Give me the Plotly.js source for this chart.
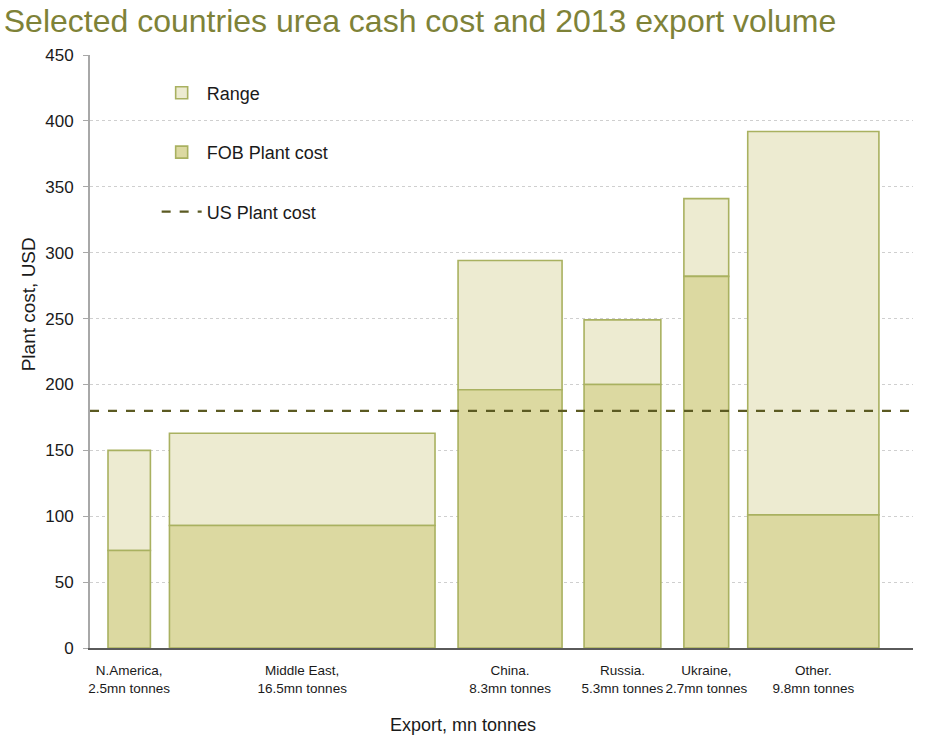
<!DOCTYPE html>
<html>
<head>
<meta charset="utf-8">
<script src="https://cdn.plot.ly/plotly-3.0.1.min.js"></script>
<style>html,body{margin:0;padding:0;background:#fff;}#chart{width:945px;height:752px;}</style>
</head>
<body>
<div id="chart"></div>
<script>
// ---- data ----
const regionNames = ['N.America,', 'Middle East,', 'China.', 'Russia.', 'Ukraine,', 'Other.'];
const exportVolume = ['2.5', '16.5', '8.3', '5.3', '2.7', '9.8'];   // mn tonnes (labels)
const fobPlantCost = [74, 93, 196, 200, 282, 101];                  // USD
const rangeHigh = [150, 163, 294, 249, 341, 392];                   // USD, top of range
const usPlantCost = 180;                                            // USD

// ---- layout of the variable-width bars (as drawn in the reference) ----
const drawnWidths = [2.65, 16.6, 6.5, 4.8, 2.8, 8.2];
const drawnGaps = [1.125, 1.19, 1.44, 1.375, 1.44, 1.19];
const axisMax = 51.44;

const centers = [];
let pos = 0;
drawnWidths.forEach((w, i) => { pos += drawnGaps[i]; centers.push(pos + w / 2); pos += w; });
const tickText = regionNames.map((n, i) => n + '<br>' + exportVolume[i] + 'mn tonnes');
const rangeSize = rangeHigh.map((h, i) => h - fobPlantCost[i]);

const borderCol = '#A9B160';
const traces = [
  {
    type: 'bar', name: 'Range', x: centers, y: rangeSize, base: fobPlantCost, width: drawnWidths,
    marker: {color: '#EDEBD1', line: {color: borderCol, width: 1.6}},
    legendgroup: 'a', hoverinfo: 'skip'
  },
  {
    type: 'bar', name: 'FOB Plant cost', x: centers, y: fobPlantCost, width: drawnWidths,
    marker: {color: '#DCD9A1', line: {color: borderCol, width: 1.6}},
    legendgroup: 'b', hoverinfo: 'skip'
  },
  {
    type: 'scatter', mode: 'lines', name: 'US Plant cost',
    x: [0, axisMax], y: [usPlantCost, usPlantCost],
    line: {color: '#5B5A22', width: 2.2, dash: 'dash'},
    legendgroup: 'c', hoverinfo: 'skip'
  }
];

const layout = {
  width: 945, height: 752,
  paper_bgcolor: '#fff', plot_bgcolor: '#fff',
  margin: {l: 90, r: 32, t: 55, b: 104},
  barmode: 'overlay',
  font: {family: '"Liberation Sans", Arial, sans-serif', color: '#1a1a1a'},
  title: {
    text: 'Selected countries urea cash cost and 2013 export volume',
    font: {size: 32, color: '#7E8238', family: '"Liberation Sans", Arial, sans-serif'},
    x: 0.004, xanchor: 'left', xref: 'container', y: 0.973, yanchor: 'middle', yref: 'container'
  },
  showlegend: true,
  legend: {
    x: 0.081, y: 0.967, xanchor: 'left', yanchor: 'top',
    font: {size: 18, color: '#1a1a1a'},
    bgcolor: 'rgba(0,0,0,0)', tracegroupgap: 33, traceorder: 'grouped',
    itemwidth: 40
  },
  xaxis: {
    range: [0, axisMax], showgrid: false, zeroline: false,
    showline: true, linecolor: '#5a5a5a', linewidth: 2,
    tickvals: centers, ticktext: tickText, ticks: '', tickangle: 0,
    tickfont: {size: 13.5, color: '#1a1a1a'}, ticklabelstandoff: 9,
    fixedrange: true
  },
  yaxis: {
    range: [0, 450], dtick: 50, tick0: 0,
    showgrid: true, gridcolor: '#CFCFCF', griddash: 'dot', gridwidth: 1,
    zeroline: false, showline: true, linecolor: '#A8A8A8', linewidth: 2,
    ticks: 'outside', ticklen: 5, tickcolor: '#A8A8A8',
    tickfont: {size: 17, color: '#1a1a1a'}, ticklabelstandoff: 6,
    fixedrange: true
  },
  annotations: [
    {text: 'Plant cost, USD', textangle: -90, xref: 'paper', yref: 'paper',
     x: -0.075, y: 0.58, xanchor: 'center', yanchor: 'middle', showarrow: false,
     font: {size: 19, color: '#1a1a1a'}},
    {text: 'Export, mn tonnes', xref: 'paper', yref: 'paper',
     x: 0.453, y: -0.13, xanchor: 'center', yanchor: 'middle', showarrow: false,
     font: {size: 18, color: '#1a1a1a'}}
  ]
};

Plotly.newPlot('chart', traces, layout, {displayModeBar: false, staticPlot: true});
</script>
</body>
</html>
